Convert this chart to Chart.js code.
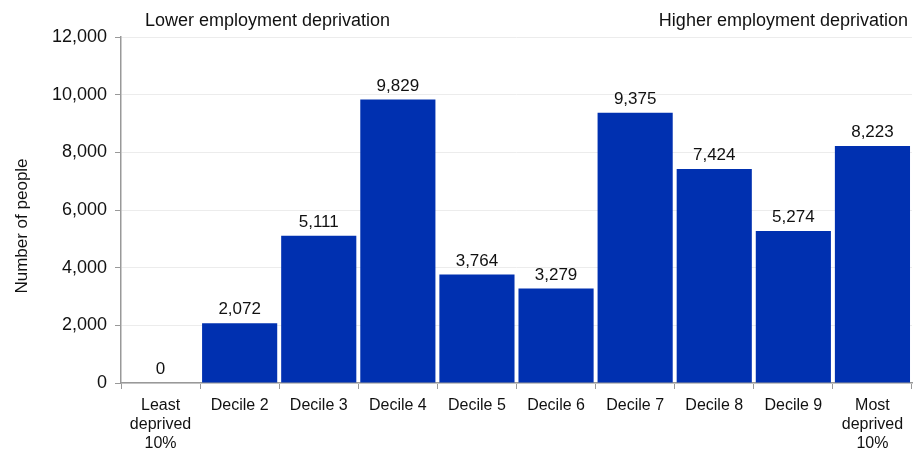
<!DOCTYPE html>
<html lang="en">
<head>
    <meta charset="UTF-8">
    <title>Employment deprivation deciles</title>
    <script src="https://cdn.jsdelivr.net/npm/chart.js"></script>
    <style>
        body { margin: 0; background: #fff; }
        #wrap { position: relative; width: 913px; height: 450px; }
    </style>
</head>
<body>
<div id="wrap"><canvas id="barChart" width="913" height="450"></canvas></div>
<script>
    const deciles = [
        ['Least', 'deprived', '10%'], 'Decile 2', 'Decile 3', 'Decile 4', 'Decile 5',
        'Decile 6', 'Decile 7', 'Decile 8', 'Decile 9', ['Most', 'deprived', '10%']
    ];
    const people = [0, 2072, 5111, 9829, 3764, 3279, 9375, 7424, 5274, 8223];
    const yTicks = [0, 2000, 4000, 6000, 8000, 10000, 12000];
    const leftNote = 'Lower employment deprivation';
    const rightNote = 'Higher employment deprivation';
    const yTitle = 'Number of people';

    const FONT = '"Liberation Sans", Arial, sans-serif';

    // value labels over each bar, the two notes at the top, and the y title
    const labelsPlugin = {
        id: 'barLabels',
        afterDatasetsDraw(chart) {
            const ctx = chart.ctx;
            const meta = chart.getDatasetMeta(0);
            ctx.save();
            ctx.fillStyle = '#111';
            ctx.font = '17px ' + FONT;
            ctx.textAlign = 'center';
            ctx.textBaseline = 'bottom';
            meta.data.forEach((bar, i) => {
                ctx.fillText(people[i].toLocaleString('en-GB'), bar.x, bar.y - 5);
            });
            ctx.font = '18px ' + FONT;
            ctx.textBaseline = 'alphabetic';
            ctx.textAlign = 'left';
            ctx.fillText(leftNote, 145, 26);
            ctx.textAlign = 'right';
            ctx.fillText(rightNote, 908, 26);

            ctx.translate(22, 226);
            ctx.rotate(-Math.PI / 2);
            ctx.textAlign = 'center';
            ctx.textBaseline = 'middle';
            ctx.font = '17px ' + FONT;
            ctx.fillText(yTitle, 0, 0);
            ctx.restore();
        }
    };

    new Chart(document.getElementById('barChart'), {
        type: 'bar',
        data: {
            labels: deciles,
            datasets: [{
                data: people,
                backgroundColor: '#0030b0',
                barPercentage: 0.95,
                categoryPercentage: 1.0
            }]
        },
        options: {
            responsive: false,
            animation: false,
            layout: { padding: { top: 37, right: 1, left: 0, bottom: 0 } },
            plugins: {
                legend: { display: false },
                tooltip: { enabled: false }
            },
            scales: {
                x: {
                    grid: { offset: true, drawOnChartArea: false, color: '#999', tickLength: 6 },
                    border: { color: '#999', width: 1.5 },
                    ticks: { color: '#111', font: { family: FONT, size: 16 }, maxRotation: 0, padding: 7 },
                    afterFit(scale) { scale.height = 67; }
                },
                y: {
                    min: 0,
                    max: 12000,
                    afterBuildTicks(scale) { scale.ticks = yTicks.map(v => ({ value: v })); },
                    grid: { color: '#ececec', tickColor: '#999', tickLength: 6 },
                    border: { color: '#999', width: 1.5 },
                    ticks: {
                        color: '#111',
                        font: { family: FONT, size: 18 },
                        padding: 8,
                        callback: v => v.toLocaleString('en-GB')
                    },
                    afterFit(scale) { scale.width = 121; }
                }
            }
        },
        plugins: [labelsPlugin]
    });
</script>
</body>
</html>
